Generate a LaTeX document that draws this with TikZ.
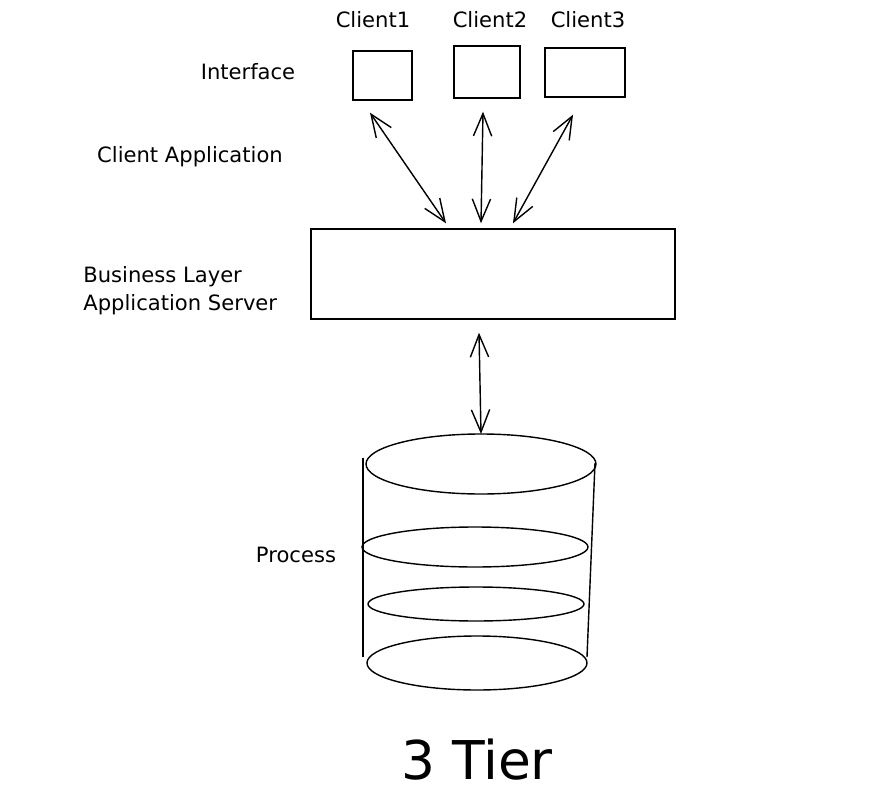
\documentclass[tikz,border=0pt]{standalone}
\usepackage{fontspec}
\setmainfont{DejaVu Sans}
\usetikzlibrary{arrows.meta}
\tikzset{
  box/.style={draw,line width=1pt,inner sep=0pt},
  lbl/.style={font=\fontsize{15}{20}\selectfont},
  >={Straight Barb[length=16pt,width=13pt,line width=1pt]}
}
\begin{document}
\begin{tikzpicture}[x=0.025cm,y=-0.025cm,line width=1pt]
    \useasboundingbox (0,0) rectangle (889,802);
    % clients
    \path (382.5,75.5) node [box,minimum width=1.475cm,minimum height=1.225cm](c1){};
    \path (487,72) node [box,minimum width=1.65cm,minimum height=1.3cm](c2){};
    \path (585,72.5) node [box,minimum width=2cm,minimum height=1.225cm](c3){};
    \path[lbl] (373,20) node(t1){Client1} (490,20) node(t2){Client2} (588,20) node(t3){Client3};
    \path[lbl] (248,72) node(iface){Interface} (190,157) node(capp){Client Application};
    \path[lbl] (78,291) node[anchor=west,align=left](blayer){Business Layer\\Application Server};
    % business layer
    \path (493,274) node [box,minimum width=9.1cm,minimum height=2.25cm](biz){};
    \draw[<->] ([shift={(-12.5,12)}]c1.south) -- ([shift={(-47,-5)}]biz.north);
    \draw[<->] ([shift={(-4,13)}]c2.south) -- ([shift={(-12,-5)}]biz.north);
    \draw[<->] ([shift={(-12,17)}]c3.south) -- ([shift={(20,-5)}]biz.north);
    % database
    \coordinate (dbtop) at (481,434);
    \draw (481,464) ellipse [x radius=115,y radius=30];
    \draw (475,547) ellipse [x radius=113,y radius=20];
    \draw (476,604) ellipse [x radius=108,y radius=17];
    \draw (477,663) ellipse [x radius=110,y radius=27];
    \draw (363,458) -- (363,657);
    \draw (595,463) -- (587,657);
    \draw[<->] ([shift={(-14,13)}]biz.south) -- (dbtop);
    \path[lbl] (296,555) node(proc){Process};
    \path (477,760) node[font=\fontsize{38}{40}\selectfont](title){3 Tier};
\end{tikzpicture}
\end{document}
